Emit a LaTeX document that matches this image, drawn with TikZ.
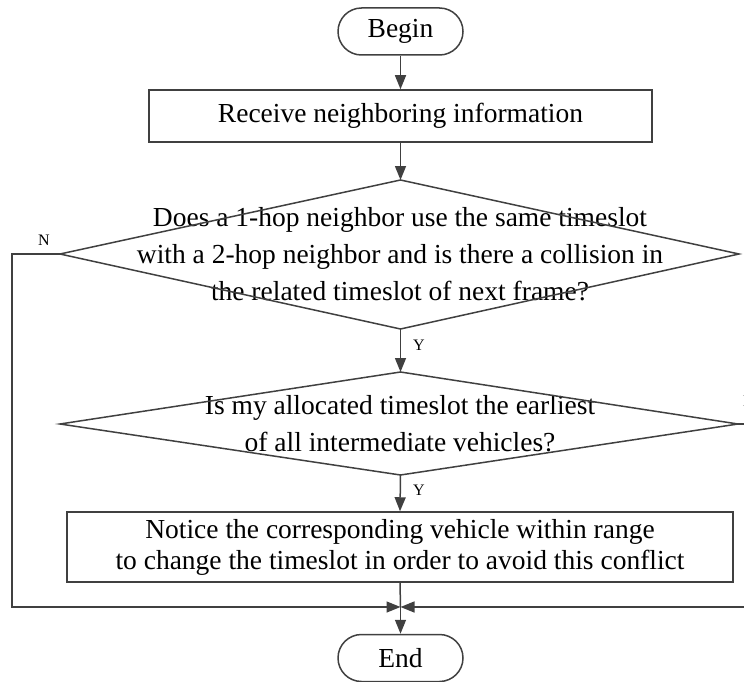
\documentclass[tikz,border=0pt]{standalone}
\usepackage{fontspec}
\setmainfont{Liberation Serif}
\usetikzlibrary{arrows.meta,shapes.misc}
\definecolor{lc}{HTML}{404040}
\begin{document}
\begin{tikzpicture}[x=1pt,y=-1pt,
  line/.style={draw=lc, line width=1.5pt},
  arr/.style={line, -{Triangle[length=14pt,width=11pt]}},
  term/.style={draw=lc, line width=1.5pt, rounded rectangle, minimum width=125pt, minimum height=47pt, inner sep=0pt, font=\fontsize{27.5}{30}\selectfont},
  proc/.style={draw=lc, line width=1.5pt, rectangle, inner sep=0pt, align=center},
  dec/.style={align=center, inner sep=0pt, font=\fontsize{27.5}{37}\selectfont},
  lab/.style={font=\fontsize{16}{18}\selectfont, inner sep=0pt}]
\useasboundingbox (0,0) rectangle (744,682);

\node[term] (begin) at (400.5,31.5) {Begin};
\node[proc, minimum width=503pt, minimum height=52pt, font=\fontsize{27.5}{30}\selectfont] (recv) at (400.5,116) {Receive neighboring information};

% decision 1
\node[dec] (d1) at (400,254) {Does a 1-hop neighbor use the same timeslot\\with a 2-hop neighbor and is there a collision in\\the related timeslot of next frame?};
\coordinate (d1n) at (400.5,180);
\coordinate (d1s) at (400.5,329);
\coordinate (d1w) at (60,254);
\coordinate (d1e) at (739,254);
\draw[line] (d1n) -- (d1e) -- (d1s) -- (d1w) -- cycle;

% decision 2
\node[dec] (d2) at (400,424) {Is my allocated timeslot the earliest\\of all intermediate vehicles?};
\coordinate (d2n) at (400.5,372);
\coordinate (d2s) at (400.5,475);
\coordinate (d2w) at (60,424);
\coordinate (d2e) at (738,424);
\draw[line] (d2n) -- (d2e) -- (d2s) -- (d2w) -- cycle;

\node[proc, minimum width=666pt, minimum height=70pt, font=\fontsize{27.5}{31}\selectfont] (act) at (400,547) {Notice the corresponding vehicle within range\\to change the timeslot in order to avoid this conflict};

\node[term] (end) at (400.5,658) {End};

\coordinate (m) at (400.5,607);
\coordinate (lt) at (12,254);
\coordinate (lb) at (12,607);
\coordinate (rt) at (770,424);
\coordinate (rb) at (770,607);

\draw[arr] (begin.south) -- (recv.north);
\draw[arr] (recv.south) -- (d1n);
\draw[arr] (d1s) -- (d2n);
\draw[arr] (d2s) -- (act.north);
\draw[line] (act.south) -- (m);
\draw[arr] (m) -- (end.north);
\draw[arr] (d1w) -- (lt) -- (lb) -- (m);
\draw[arr] (d2e) -- (rt) -- (rb) -- (m);

\node[lab] (n1) at (44,240) {N};
\node[lab] (n2) at (749,401) {N};
\node[lab] (y1) at (419,345) {Y};
\node[lab] (y2) at (419,490) {Y};
\end{tikzpicture}
\end{document}
